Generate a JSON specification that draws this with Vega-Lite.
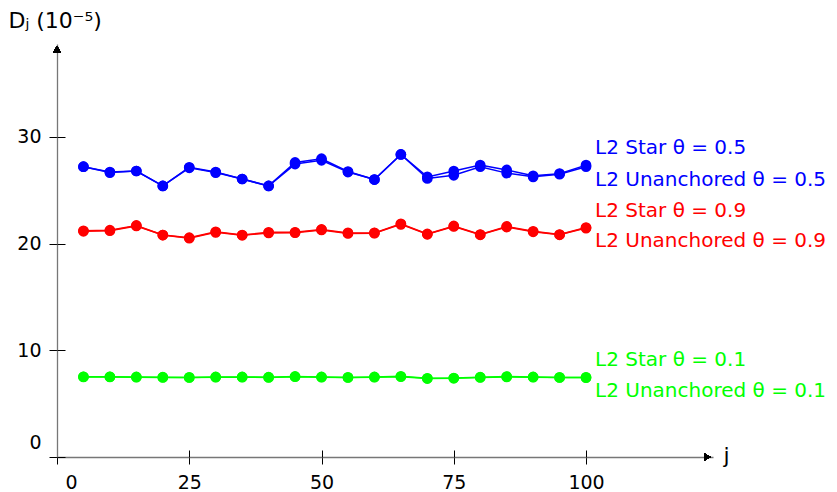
{
  "$schema": "https://vega.github.io/schema/vega-lite/v6.json",
  "width": 656,
  "height": 413,
  "autosize": {"type": "none"},
  "padding": {"left": 57, "top": 44, "right": 124, "bottom": 35},
  "config": {"view": {"stroke": null}, "font": "DejaVu Sans"},
  "data": {"values": [
    {"j":5,"v":27.2,"s":"L2 Star θ = 0.5","a":"Star","t":"0.5"},
    {"j":10,"v":26.7,"s":"L2 Star θ = 0.5","a":"Star","t":"0.5"},
    {"j":15,"v":26.8,"s":"L2 Star θ = 0.5","a":"Star","t":"0.5"},
    {"j":20,"v":25.4,"s":"L2 Star θ = 0.5","a":"Star","t":"0.5"},
    {"j":25,"v":27.15,"s":"L2 Star θ = 0.5","a":"Star","t":"0.5"},
    {"j":30,"v":26.7,"s":"L2 Star θ = 0.5","a":"Star","t":"0.5"},
    {"j":35,"v":26.05,"s":"L2 Star θ = 0.5","a":"Star","t":"0.5"},
    {"j":40,"v":25.4,"s":"L2 Star θ = 0.5","a":"Star","t":"0.5"},
    {"j":45,"v":27.6,"s":"L2 Star θ = 0.5","a":"Star","t":"0.5"},
    {"j":50,"v":27.95,"s":"L2 Star θ = 0.5","a":"Star","t":"0.5"},
    {"j":55,"v":26.75,"s":"L2 Star θ = 0.5","a":"Star","t":"0.5"},
    {"j":60,"v":26.0,"s":"L2 Star θ = 0.5","a":"Star","t":"0.5"},
    {"j":65,"v":28.35,"s":"L2 Star θ = 0.5","a":"Star","t":"0.5"},
    {"j":70,"v":26.25,"s":"L2 Star θ = 0.5","a":"Star","t":"0.5"},
    {"j":75,"v":26.8,"s":"L2 Star θ = 0.5","a":"Star","t":"0.5"},
    {"j":80,"v":27.35,"s":"L2 Star θ = 0.5","a":"Star","t":"0.5"},
    {"j":85,"v":26.9,"s":"L2 Star θ = 0.5","a":"Star","t":"0.5"},
    {"j":90,"v":26.35,"s":"L2 Star θ = 0.5","a":"Star","t":"0.5"},
    {"j":95,"v":26.55,"s":"L2 Star θ = 0.5","a":"Star","t":"0.5"},
    {"j":100,"v":27.35,"s":"L2 Star θ = 0.5","a":"Star","t":"0.5"},
    {"j":5,"v":27.2,"s":"L2 Unanchored θ = 0.5","a":"Unanchored","t":"0.5"},
    {"j":10,"v":26.65,"s":"L2 Unanchored θ = 0.5","a":"Unanchored","t":"0.5"},
    {"j":15,"v":26.8,"s":"L2 Unanchored θ = 0.5","a":"Unanchored","t":"0.5"},
    {"j":20,"v":25.4,"s":"L2 Unanchored θ = 0.5","a":"Unanchored","t":"0.5"},
    {"j":25,"v":27.1,"s":"L2 Unanchored θ = 0.5","a":"Unanchored","t":"0.5"},
    {"j":30,"v":26.65,"s":"L2 Unanchored θ = 0.5","a":"Unanchored","t":"0.5"},
    {"j":35,"v":26.05,"s":"L2 Unanchored θ = 0.5","a":"Unanchored","t":"0.5"},
    {"j":40,"v":25.4,"s":"L2 Unanchored θ = 0.5","a":"Unanchored","t":"0.5"},
    {"j":45,"v":27.45,"s":"L2 Unanchored θ = 0.5","a":"Unanchored","t":"0.5"},
    {"j":50,"v":27.8,"s":"L2 Unanchored θ = 0.5","a":"Unanchored","t":"0.5"},
    {"j":55,"v":26.7,"s":"L2 Unanchored θ = 0.5","a":"Unanchored","t":"0.5"},
    {"j":60,"v":26.0,"s":"L2 Unanchored θ = 0.5","a":"Unanchored","t":"0.5"},
    {"j":65,"v":28.35,"s":"L2 Unanchored θ = 0.5","a":"Unanchored","t":"0.5"},
    {"j":70,"v":26.1,"s":"L2 Unanchored θ = 0.5","a":"Unanchored","t":"0.5"},
    {"j":75,"v":26.4,"s":"L2 Unanchored θ = 0.5","a":"Unanchored","t":"0.5"},
    {"j":80,"v":27.2,"s":"L2 Unanchored θ = 0.5","a":"Unanchored","t":"0.5"},
    {"j":85,"v":26.6,"s":"L2 Unanchored θ = 0.5","a":"Unanchored","t":"0.5"},
    {"j":90,"v":26.25,"s":"L2 Unanchored θ = 0.5","a":"Unanchored","t":"0.5"},
    {"j":95,"v":26.5,"s":"L2 Unanchored θ = 0.5","a":"Unanchored","t":"0.5"},
    {"j":100,"v":27.2,"s":"L2 Unanchored θ = 0.5","a":"Unanchored","t":"0.5"},
    {"j":5,"v":21.2,"s":"L2 Star θ = 0.9","a":"Star","t":"0.9"},
    {"j":10,"v":21.25,"s":"L2 Star θ = 0.9","a":"Star","t":"0.9"},
    {"j":15,"v":21.7,"s":"L2 Star θ = 0.9","a":"Star","t":"0.9"},
    {"j":20,"v":20.8,"s":"L2 Star θ = 0.9","a":"Star","t":"0.9"},
    {"j":25,"v":20.55,"s":"L2 Star θ = 0.9","a":"Star","t":"0.9"},
    {"j":30,"v":21.1,"s":"L2 Star θ = 0.9","a":"Star","t":"0.9"},
    {"j":35,"v":20.8,"s":"L2 Star θ = 0.9","a":"Star","t":"0.9"},
    {"j":40,"v":21.05,"s":"L2 Star θ = 0.9","a":"Star","t":"0.9"},
    {"j":45,"v":21.05,"s":"L2 Star θ = 0.9","a":"Star","t":"0.9"},
    {"j":50,"v":21.32,"s":"L2 Star θ = 0.9","a":"Star","t":"0.9"},
    {"j":55,"v":21.0,"s":"L2 Star θ = 0.9","a":"Star","t":"0.9"},
    {"j":60,"v":21.0,"s":"L2 Star θ = 0.9","a":"Star","t":"0.9"},
    {"j":65,"v":21.85,"s":"L2 Star θ = 0.9","a":"Star","t":"0.9"},
    {"j":70,"v":20.9,"s":"L2 Star θ = 0.9","a":"Star","t":"0.9"},
    {"j":75,"v":21.65,"s":"L2 Star θ = 0.9","a":"Star","t":"0.9"},
    {"j":80,"v":20.85,"s":"L2 Star θ = 0.9","a":"Star","t":"0.9"},
    {"j":85,"v":21.6,"s":"L2 Star θ = 0.9","a":"Star","t":"0.9"},
    {"j":90,"v":21.15,"s":"L2 Star θ = 0.9","a":"Star","t":"0.9"},
    {"j":95,"v":20.85,"s":"L2 Star θ = 0.9","a":"Star","t":"0.9"},
    {"j":100,"v":21.5,"s":"L2 Star θ = 0.9","a":"Star","t":"0.9"},
    {"j":5,"v":21.15,"s":"L2 Unanchored θ = 0.9","a":"Unanchored","t":"0.9"},
    {"j":10,"v":21.2,"s":"L2 Unanchored θ = 0.9","a":"Unanchored","t":"0.9"},
    {"j":15,"v":21.65,"s":"L2 Unanchored θ = 0.9","a":"Unanchored","t":"0.9"},
    {"j":20,"v":20.8,"s":"L2 Unanchored θ = 0.9","a":"Unanchored","t":"0.9"},
    {"j":25,"v":20.5,"s":"L2 Unanchored θ = 0.9","a":"Unanchored","t":"0.9"},
    {"j":30,"v":21.05,"s":"L2 Unanchored θ = 0.9","a":"Unanchored","t":"0.9"},
    {"j":35,"v":20.78,"s":"L2 Unanchored θ = 0.9","a":"Unanchored","t":"0.9"},
    {"j":40,"v":21.0,"s":"L2 Unanchored θ = 0.9","a":"Unanchored","t":"0.9"},
    {"j":45,"v":21.02,"s":"L2 Unanchored θ = 0.9","a":"Unanchored","t":"0.9"},
    {"j":50,"v":21.28,"s":"L2 Unanchored θ = 0.9","a":"Unanchored","t":"0.9"},
    {"j":55,"v":20.95,"s":"L2 Unanchored θ = 0.9","a":"Unanchored","t":"0.9"},
    {"j":60,"v":20.97,"s":"L2 Unanchored θ = 0.9","a":"Unanchored","t":"0.9"},
    {"j":65,"v":21.8,"s":"L2 Unanchored θ = 0.9","a":"Unanchored","t":"0.9"},
    {"j":70,"v":20.87,"s":"L2 Unanchored θ = 0.9","a":"Unanchored","t":"0.9"},
    {"j":75,"v":21.6,"s":"L2 Unanchored θ = 0.9","a":"Unanchored","t":"0.9"},
    {"j":80,"v":20.82,"s":"L2 Unanchored θ = 0.9","a":"Unanchored","t":"0.9"},
    {"j":85,"v":21.55,"s":"L2 Unanchored θ = 0.9","a":"Unanchored","t":"0.9"},
    {"j":90,"v":21.1,"s":"L2 Unanchored θ = 0.9","a":"Unanchored","t":"0.9"},
    {"j":95,"v":20.82,"s":"L2 Unanchored θ = 0.9","a":"Unanchored","t":"0.9"},
    {"j":100,"v":21.45,"s":"L2 Unanchored θ = 0.9","a":"Unanchored","t":"0.9"},
    {"j":5,"v":7.52,"s":"L2 Star θ = 0.1","a":"Star","t":"0.1"},
    {"j":10,"v":7.52,"s":"L2 Star θ = 0.1","a":"Star","t":"0.1"},
    {"j":15,"v":7.5,"s":"L2 Star θ = 0.1","a":"Star","t":"0.1"},
    {"j":20,"v":7.48,"s":"L2 Star θ = 0.1","a":"Star","t":"0.1"},
    {"j":25,"v":7.46,"s":"L2 Star θ = 0.1","a":"Star","t":"0.1"},
    {"j":30,"v":7.5,"s":"L2 Star θ = 0.1","a":"Star","t":"0.1"},
    {"j":35,"v":7.5,"s":"L2 Star θ = 0.1","a":"Star","t":"0.1"},
    {"j":40,"v":7.48,"s":"L2 Star θ = 0.1","a":"Star","t":"0.1"},
    {"j":45,"v":7.55,"s":"L2 Star θ = 0.1","a":"Star","t":"0.1"},
    {"j":50,"v":7.5,"s":"L2 Star θ = 0.1","a":"Star","t":"0.1"},
    {"j":55,"v":7.46,"s":"L2 Star θ = 0.1","a":"Star","t":"0.1"},
    {"j":60,"v":7.5,"s":"L2 Star θ = 0.1","a":"Star","t":"0.1"},
    {"j":65,"v":7.56,"s":"L2 Star θ = 0.1","a":"Star","t":"0.1"},
    {"j":70,"v":7.38,"s":"L2 Star θ = 0.1","a":"Star","t":"0.1"},
    {"j":75,"v":7.4,"s":"L2 Star θ = 0.1","a":"Star","t":"0.1"},
    {"j":80,"v":7.48,"s":"L2 Star θ = 0.1","a":"Star","t":"0.1"},
    {"j":85,"v":7.54,"s":"L2 Star θ = 0.1","a":"Star","t":"0.1"},
    {"j":90,"v":7.5,"s":"L2 Star θ = 0.1","a":"Star","t":"0.1"},
    {"j":95,"v":7.46,"s":"L2 Star θ = 0.1","a":"Star","t":"0.1"},
    {"j":100,"v":7.46,"s":"L2 Star θ = 0.1","a":"Star","t":"0.1"},
    {"j":5,"v":7.5,"s":"L2 Unanchored θ = 0.1","a":"Unanchored","t":"0.1"},
    {"j":10,"v":7.5,"s":"L2 Unanchored θ = 0.1","a":"Unanchored","t":"0.1"},
    {"j":15,"v":7.48,"s":"L2 Unanchored θ = 0.1","a":"Unanchored","t":"0.1"},
    {"j":20,"v":7.46,"s":"L2 Unanchored θ = 0.1","a":"Unanchored","t":"0.1"},
    {"j":25,"v":7.45,"s":"L2 Unanchored θ = 0.1","a":"Unanchored","t":"0.1"},
    {"j":30,"v":7.48,"s":"L2 Unanchored θ = 0.1","a":"Unanchored","t":"0.1"},
    {"j":35,"v":7.48,"s":"L2 Unanchored θ = 0.1","a":"Unanchored","t":"0.1"},
    {"j":40,"v":7.46,"s":"L2 Unanchored θ = 0.1","a":"Unanchored","t":"0.1"},
    {"j":45,"v":7.52,"s":"L2 Unanchored θ = 0.1","a":"Unanchored","t":"0.1"},
    {"j":50,"v":7.48,"s":"L2 Unanchored θ = 0.1","a":"Unanchored","t":"0.1"},
    {"j":55,"v":7.45,"s":"L2 Unanchored θ = 0.1","a":"Unanchored","t":"0.1"},
    {"j":60,"v":7.48,"s":"L2 Unanchored θ = 0.1","a":"Unanchored","t":"0.1"},
    {"j":65,"v":7.52,"s":"L2 Unanchored θ = 0.1","a":"Unanchored","t":"0.1"},
    {"j":70,"v":7.35,"s":"L2 Unanchored θ = 0.1","a":"Unanchored","t":"0.1"},
    {"j":75,"v":7.38,"s":"L2 Unanchored θ = 0.1","a":"Unanchored","t":"0.1"},
    {"j":80,"v":7.46,"s":"L2 Unanchored θ = 0.1","a":"Unanchored","t":"0.1"},
    {"j":85,"v":7.5,"s":"L2 Unanchored θ = 0.1","a":"Unanchored","t":"0.1"},
    {"j":90,"v":7.48,"s":"L2 Unanchored θ = 0.1","a":"Unanchored","t":"0.1"},
    {"j":95,"v":7.45,"s":"L2 Unanchored θ = 0.1","a":"Unanchored","t":"0.1"},
    {"j":100,"v":7.44,"s":"L2 Unanchored θ = 0.1","a":"Unanchored","t":"0.1"}
  ]},
  "resolve": {"axis": {"x": "independent", "y": "independent"}},
  "layer": [
    {
      "mark": {"type": "line", "strokeWidth": 1.5},
      "encoding": {
        "x": {"field": "j", "type": "quantitative", "scale": {"domain": [0, 124], "nice": false, "zero": false},
          "axis": {"orient": "bottom", "values": [0, 25, 50, 75, 100], "grid": false, "domainColor": "#777777", "domainWidth": 1.3,
            "tickColor": "#000000", "tickSize": 7, "tickWidth": 1, "labelFontSize": 19, "labelColor": "#000000", "labelPadding": 9,
            "labelFlush": false,
            "labelOffset": {"condition": {"test": "datum.value === 0", "value": 14}, "value": 0},
            "title": "j", "titleFontSize": 22, "titleFontWeight": "normal", "titleColor": "#000000",
            "titleX": 666, "titleY": -2, "titleAlign": "left", "titleBaseline": "middle"}},
        "y": {"field": "v", "type": "quantitative", "scale": {"domain": [0, 38.7], "nice": false, "zero": false},
          "axis": {"orient": "left", "values": [0, 10, 20, 30], "grid": false, "domainColor": "#777777", "domainWidth": 1.3,
            "tickColor": "#000000", "tickSize": 8, "tickWidth": 1, "labelFontSize": 19, "labelColor": "#000000", "labelPadding": 8,
            "labelOffset": {"condition": {"test": "datum.value === 0", "value": -15}, "value": 0},
            "title": "Dⱼ (10⁻⁵)", "titleAngle": 0, "titleFontSize": 22, "titleFontWeight": "normal", "titleColor": "#000000",
            "titleX": -49, "titleY": -24, "titleAlign": "left", "titleBaseline": "middle"}},
        "color": {"field": "t", "type": "nominal", "scale": {"domain": ["0.5", "0.9", "0.1"], "range": ["#0000ff", "#ff0000", "#00ff00"]}, "legend": null},
        "detail": {"field": "s"}
      }
    },
    {
      "mark": {"type": "point", "filled": true, "opacity": 1, "size": 115},
      "encoding": {
        "x": {"field": "j", "type": "quantitative",
          "axis": {"orient": "bottom", "values": [0, 25, 50, 75, 100], "domain": false, "labels": false, "grid": false, "tickSize": -7, "tickColor": "#000000", "tickWidth": 1, "title": null}},
        "y": {"field": "v", "type": "quantitative",
          "axis": {"orient": "left", "values": [0, 10, 20, 30], "domain": false, "labels": false, "grid": false, "tickSize": -8, "tickColor": "#000000", "tickWidth": 1, "title": null}},
        "color": {"field": "t", "type": "nominal", "legend": null}
      }
    },
    {
      "transform": [{"filter": "datum.j === 100 && datum.a === 'Star'"}],
      "mark": {"type": "text", "align": "left", "baseline": "middle", "dx": 9, "dy": -17, "fontSize": 20},
      "encoding": {
        "x": {"field": "j", "type": "quantitative", "axis": null},
        "y": {"field": "v", "type": "quantitative", "axis": null},
        "text": {"field": "s"},
        "color": {"field": "t", "type": "nominal", "legend": null}
      }
    },
    {
      "transform": [{"filter": "datum.j === 100 && datum.a === 'Unanchored'"}],
      "mark": {"type": "text", "align": "left", "baseline": "middle", "dx": 9, "dy": 13, "fontSize": 20},
      "encoding": {
        "x": {"field": "j", "type": "quantitative", "axis": null},
        "y": {"field": "v", "type": "quantitative", "axis": null},
        "text": {"field": "s"},
        "color": {"field": "t", "type": "nominal", "legend": null}
      }
    },
    {
      "mark": {"type": "point", "shape": "triangle-right", "filled": true, "color": "#000000", "opacity": 1, "size": 55},
      "encoding": {
        "x": {"datum": 122.9, "type": "quantitative", "axis": null},
        "y": {"datum": 0, "type": "quantitative", "axis": null}
      }
    },
    {
      "mark": {"type": "point", "shape": "triangle-up", "filled": true, "color": "#000000", "opacity": 1, "size": 55},
      "encoding": {
        "x": {"datum": 0, "type": "quantitative", "axis": null},
        "y": {"datum": 38.2, "type": "quantitative", "axis": null}
      }
    }
  ]
}
